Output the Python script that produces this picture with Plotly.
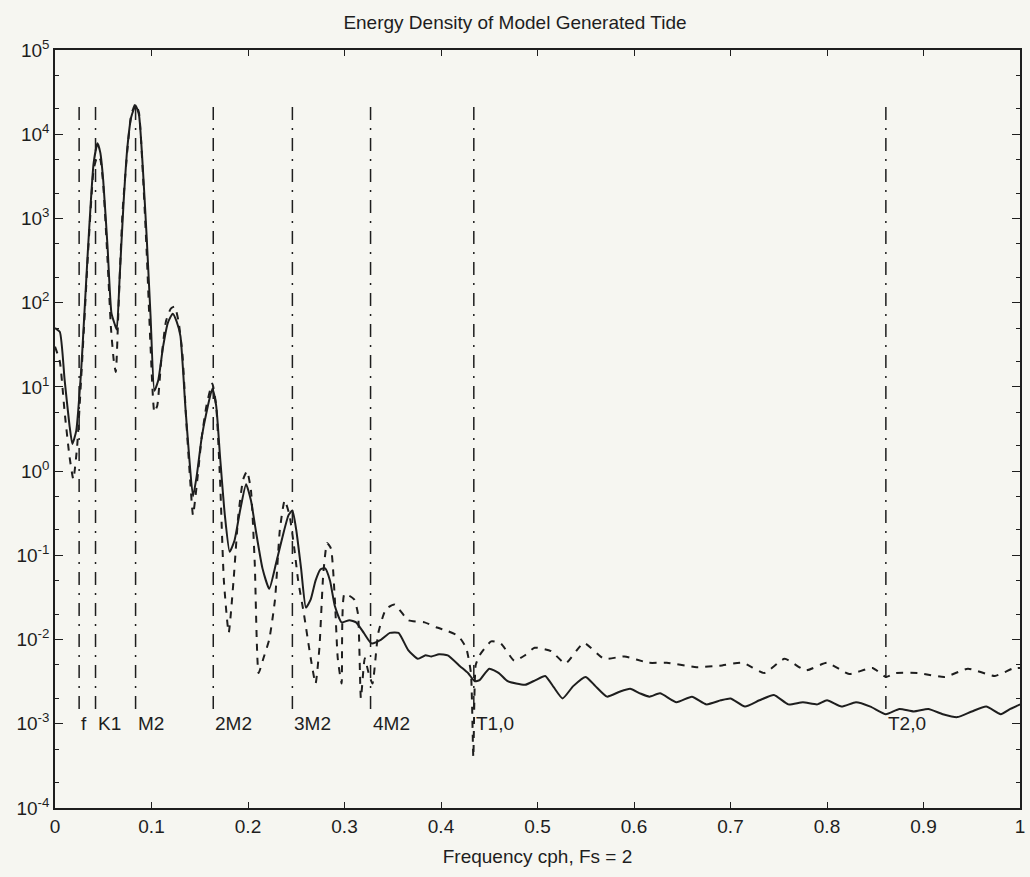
import plotly.graph_objects as go

# Spectral estimate of the model tide (solid) and companion estimate (dashed)
freq_solid = [0.000, 0.005, 0.010, 0.015, 0.018, 0.022, 0.027, 0.030, 0.034, 0.037,
              0.040, 0.044, 0.047, 0.050, 0.0545, 0.0585, 0.062, 0.064, 0.067, 0.071,
              0.075, 0.079, 0.0835, 0.087, 0.091, 0.095, 0.099, 0.103, 0.107, 0.112,
              0.117, 0.122, 0.126, 0.130, 0.135, 0.139, 0.143, 0.147, 0.152, 0.157,
              0.163, 0.167, 0.171, 0.176, 0.181, 0.186, 0.192, 0.198, 0.203, 0.208,
              0.215, 0.222, 0.229, 0.236, 0.242, 0.246, 0.250, 0.255, 0.260, 0.265,
              0.270, 0.275, 0.280, 0.285, 0.290, 0.297, 0.305, 0.312, 0.320, 0.328,
              0.338, 0.347, 0.356, 0.366, 0.376, 0.384, 0.390, 0.398, 0.407, 0.420,
              0.428, 0.435, 0.440, 0.450, 0.460, 0.469, 0.487, 0.498, 0.508, 0.517,
              0.526, 0.537, 0.550, 0.560, 0.572, 0.585, 0.596, 0.606, 0.616, 0.627,
              0.644, 0.660, 0.675, 0.690, 0.700, 0.715, 0.730, 0.745, 0.760, 0.775,
              0.790, 0.800, 0.815, 0.830, 0.845, 0.861, 0.875, 0.890, 0.905, 0.920,
              0.935, 0.950, 0.965, 0.980, 0.990, 1.000]
psd_solid = [50, 45, 12, 3.5, 2.1, 3, 15, 60, 400, 1500,
             4500, 7800, 6000, 2800, 450, 75, 55, 48, 200, 1500,
             7000, 16000, 22000, 17000, 4000, 600, 70, 9, 12, 30,
             58, 74, 60, 40, 6, 1.5, 0.5, 0.9, 2.5, 5,
             9.5, 6, 1.5, 0.3, 0.11, 0.15, 0.35, 0.7, 0.45, 0.2,
             0.07, 0.04, 0.08, 0.17, 0.3, 0.34, 0.2, 0.07, 0.024, 0.03,
             0.05, 0.068, 0.07, 0.05, 0.025, 0.016, 0.017, 0.016, 0.012, 0.009,
             0.010, 0.012, 0.012, 0.0075, 0.0059, 0.0065, 0.0063, 0.0067, 0.0065, 0.0048,
             0.0040, 0.0032, 0.0033, 0.0045, 0.0040, 0.0032, 0.0029, 0.0033, 0.0037, 0.0027,
             0.0020, 0.0028, 0.0036, 0.0028, 0.0021, 0.0024, 0.0026, 0.0023, 0.0021, 0.0023,
             0.0018, 0.0021, 0.0017, 0.0019, 0.0020, 0.0016, 0.0019, 0.0022, 0.0017, 0.0018,
             0.0017, 0.0019, 0.0016, 0.0018, 0.0016, 0.0013, 0.0015, 0.0014, 0.0015, 0.0013,
             0.0012, 0.0014, 0.0016, 0.0013, 0.0015, 0.0017]

freq_dashed = [0.000, 0.005, 0.010, 0.015, 0.019, 0.023, 0.027, 0.030, 0.034, 0.037,
               0.040, 0.044, 0.047, 0.050, 0.054, 0.058, 0.061, 0.063, 0.066, 0.070,
               0.075, 0.079, 0.0835, 0.087, 0.091, 0.095, 0.099, 0.103, 0.106, 0.110,
               0.115, 0.120, 0.124, 0.128, 0.132, 0.136, 0.140, 0.143, 0.147, 0.152,
               0.157, 0.163, 0.167, 0.171, 0.175, 0.180, 0.185, 0.190, 0.195, 0.199,
               0.203, 0.207, 0.211, 0.216, 0.222, 0.228, 0.233, 0.238, 0.243, 0.248,
               0.252, 0.258, 0.265, 0.270, 0.274, 0.278, 0.282, 0.286, 0.290, 0.293,
               0.297, 0.300, 0.310, 0.314, 0.317, 0.321, 0.325, 0.329, 0.335, 0.343,
               0.352, 0.366, 0.383, 0.395, 0.407, 0.418, 0.426, 0.431, 0.4335, 0.436,
               0.440, 0.452, 0.462, 0.476, 0.487, 0.497, 0.514, 0.529, 0.548, 0.569,
               0.590, 0.615, 0.634, 0.665, 0.689, 0.713, 0.735, 0.756, 0.778, 0.800,
               0.823, 0.847, 0.861, 0.871, 0.895, 0.922, 0.946, 0.974, 0.992, 1.000]
psd_dashed = [30, 20, 5, 1.5, 0.8, 2, 12, 50, 350, 1300,
              3800, 5500, 5000, 2500, 400, 50, 20, 15, 100, 1200,
              6500, 17000, 23000, 18000, 3500, 400, 30, 5, 6, 20,
              60, 85, 90, 60, 25, 4, 0.8, 0.3, 0.7, 2.5,
              6, 11, 6, 0.8, 0.05, 0.012, 0.05, 0.3, 0.8, 1.0,
              0.6, 0.08, 0.004, 0.006, 0.01, 0.03, 0.2, 0.45, 0.3, 0.12,
              0.05, 0.02, 0.006, 0.003, 0.008, 0.06, 0.14, 0.12, 0.03, 0.006,
              0.003, 0.035, 0.03, 0.02, 0.002, 0.006, 0.004, 0.003, 0.012, 0.023,
              0.026, 0.017, 0.016, 0.014, 0.0126, 0.011, 0.008, 0.004, 0.0004, 0.005,
              0.0065, 0.0095, 0.009, 0.0056, 0.0065, 0.008, 0.0073, 0.0052, 0.0091, 0.0059,
              0.0063, 0.0053, 0.0053, 0.0047, 0.0049, 0.0053, 0.0040, 0.0059, 0.0043, 0.0053,
              0.0039, 0.0046, 0.0036, 0.0040, 0.0040, 0.0036, 0.0045, 0.0037, 0.0045, 0.0046]

# Tidal constituent markers
constituent_names = ["f", "K1", "M2", "2M2", "3M2", "4M2", "T1,0", "T2,0"]
constituent_freqs = [0.025, 0.042, 0.0835, 0.164, 0.246, 0.327, 0.434, 0.861]

x_ticks = [0, 0.1, 0.2, 0.3, 0.4, 0.5, 0.6, 0.7, 0.8, 0.9, 1]
x_tick_text = ["0", "0.1", "0.2", "0.3", "0.4", "0.5", "0.6", "0.7", "0.8", "0.9", "1"]
y_exponents = [-4, -3, -2, -1, 0, 1, 2, 3, 4, 5]

MARKER_TOP = 2.1e4
MARKER_BOTTOM = 1.4e-3

BG = "#f6f6f1"
INK = "#1e1e1e"
FONT = "Liberation Sans, Arial, Helvetica, sans-serif"

fig = go.Figure()

for f in constituent_freqs:
    fig.add_trace(go.Scatter(
        x=[f, f], y=[MARKER_TOP, MARKER_BOTTOM], mode="lines",
        line=dict(color=INK, width=1.5, dash="13px,8px,2px,8px"),
        hoverinfo="skip", showlegend=False))

fig.add_trace(go.Scatter(
    x=freq_dashed, y=psd_dashed, mode="lines",
    line=dict(color=INK, width=2, dash="7px,7px", shape="spline", smoothing=0.5),
    showlegend=False))

fig.add_trace(go.Scatter(
    x=freq_solid, y=psd_solid, mode="lines",
    line=dict(color=INK, width=2, shape="spline", smoothing=0.5),
    showlegend=False))

for name, f in zip(constituent_names, constituent_freqs):
    fig.add_annotation(
        x=f, y=-3, xref="x", yref="y", text=name, showarrow=False,
        xanchor="left", yanchor="middle", xshift=0,
        font=dict(family=FONT, size=19, color=INK))

fig.update_layout(
    width=1030, height=877,
    margin=dict(l=55, r=5, t=50, b=69),
    paper_bgcolor=BG, plot_bgcolor=BG,
    font=dict(family=FONT, size=18, color=INK),
    title=dict(text="Energy Density of Model Generated Tide",
               x=0.5, xanchor="center", y=1 - 22 / 877, yanchor="middle",
               font=dict(family=FONT, size=19, color=INK)),
)

fig.update_xaxes(
    range=[0, 1], tickvals=x_ticks, ticktext=x_tick_text,
    ticks="inside", ticklen=6, tickwidth=1, tickcolor=INK,
    showline=True, linecolor=INK, linewidth=2, mirror="ticks",
    showgrid=False, zeroline=False,
    tickfont=dict(family=FONT, size=19, color=INK),
    title=dict(text="Frequency cph, Fs = 2", standoff=14,
               font=dict(family=FONT, size=19, color=INK)),
)

fig.update_yaxes(
    type="log", range=[-4, 5],
    tickvals=[10 ** e for e in y_exponents],
    ticktext=[f"10<sup>{e}</sup>" for e in y_exponents],
    ticks="inside", ticklen=8, tickwidth=1, tickcolor=INK,
    minor=dict(ticks="inside", ticklen=4, tickcolor=INK, showgrid=False),
    showline=True, linecolor=INK, linewidth=1.5, mirror="ticks",
    showgrid=False, zeroline=False,
    tickfont=dict(family=FONT, size=19, color=INK),
)

fig.write_html("out.html")
